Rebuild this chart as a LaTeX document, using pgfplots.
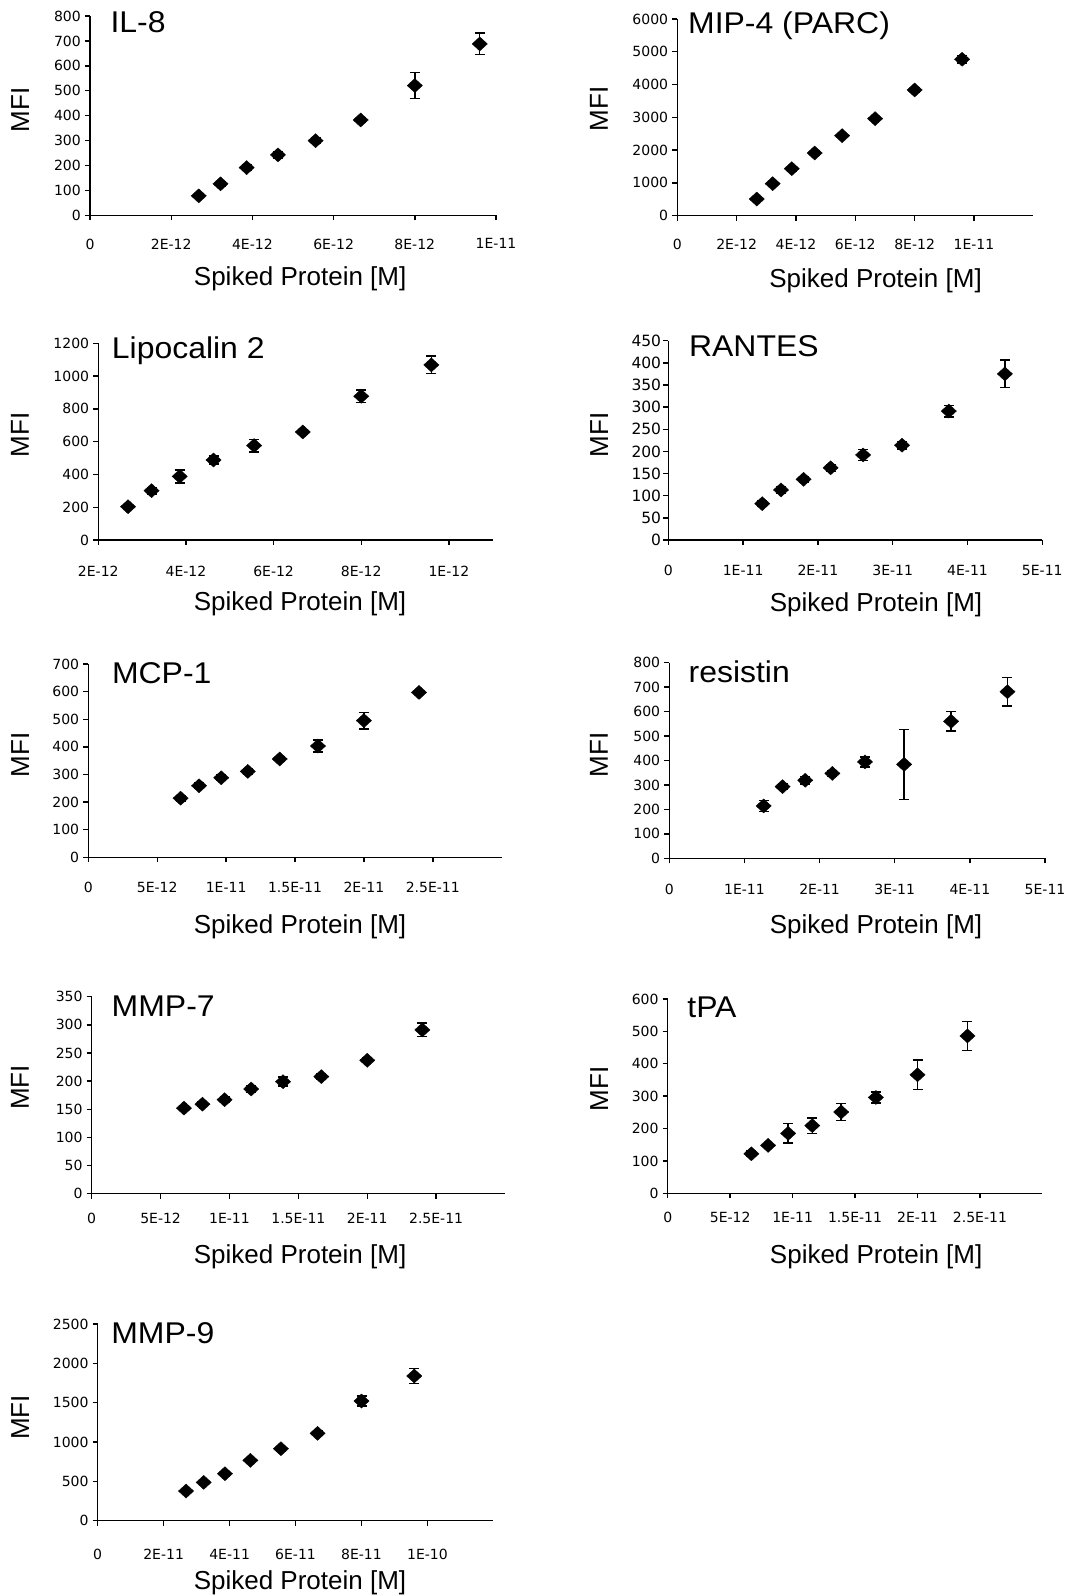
\documentclass[border=0pt]{standalone}
\usepackage{fontspec}
\setmainfont{Liberation Sans}
\newfontfamily\tickfam{DejaVu Sans}
\usepackage{graphicx}
\usepackage{pgfplots}
\pgfplotsset{compat=1.18}
\newcommand\tickfont{\tickfam\fontsize{14}{15}\selectfont}
\newcommand\bigtickfont{\tickfam\fontsize{15.5}{16}\selectfont}
\newcommand\labfont{\fontsize{26}{28}\selectfont}
\newcommand\titfont{\fontsize{30}{32}\selectfont}
\newcommand\tx[1]{\scalebox{1.065}[1]{#1}}
\tikzset{ttl/.style={anchor=base west, inner sep=0pt, font=\titfont}}
\pgfplotsset{
  panel/.style={
    scale only axis, anchor=south west, clip=false,
    axis x line*=bottom, axis y line*=left,
    axis line style={-, line width=1.4pt, black},
    tick align=outside, major tick length=5pt,
    tick style={line width=1.4pt, black},
    minor tick num=0,
    scaled x ticks=false, scaled y ticks=false,
    /pgf/number format/assume math mode=true,
    /pgf/number format/1000 sep={},
    xticklabel style={font=\tickfont, anchor=north, inner sep=0pt},
    yticklabel style={font=\tickfont, anchor=east, inner sep=0pt, xshift=-4pt},
    label style={font=\labfont},
    xlabel={Spiked Protein [M]}, ylabel={MFI},
    ylabel style={anchor=center},
    xlabel style={anchor=base},
  },
  pt/.style={only marks, mark=diamond*, black, mark size=7pt,
    mark options={xscale=1.45, fill=black, draw=black},
    error bars/.cd, y dir=both, y explicit,
    error bar style={line width=1.4pt, black},
    error mark options={rotate=90, line width=1.4pt, mark size=5pt, black}},
}
\begin{document}
\begin{tikzpicture}
\useasboundingbox (0,0) rectangle (1080pt,1596pt);

% IL-8
\begin{axis}[panel, at={(90pt,1380.5pt)}, width=406pt, height=199.5pt,
  xmin=0, xmax=1e-11, ymin=0, ymax=800,
  xtick={0,2e-12,4e-12,6e-12,8e-12,1e-11},
  xticklabels={0,2E-12,4E-12,6E-12,8E-12,1E-11},
  ytick={0,100,...,800},
  xticklabel style={yshift=-18pt},
  ylabel style={at={(axis description cs:-0.172,0.529)}},
  xlabel style={at={(axis description cs:0.493,0)}, yshift=-70pt, xshift=10pt}]
\addplot[pt] coordinates {
 (2.679e-12,78.8) +- (0,5)
 (3.215e-12,127) +- (0,8)
 (3.858e-12,192) +- (0,12)
 (4.630e-12,243) +- (0,14)
 (5.556e-12,300) +- (0,10)
 (6.667e-12,383) +- (0,10)
 (8.0e-12,521) +- (0,53)
 (9.6e-12,688) +- (0,43)
};
\node[ttl] at (rel axis cs:0.05,0.915) {\tx{IL-8}};
\end{axis}

% MIP-4 (PARC)
\begin{axis}[panel, at={(677.3pt,1380.3pt)}, width=356pt, height=196.7pt,
  xmin=0, xmax=1.2e-11, ymin=0, ymax=6000,
  xtick={0,2e-12,4e-12,6e-12,8e-12,1e-11},
  xticklabels={0,2E-12,4E-12,6E-12,8E-12,1E-11},
  ytick={0,1000,...,6000},
  xticklabel style={yshift=-18pt},
  ylabel style={at={(axis description cs:-0.220,0.542)}},
  xlabel style={at={(axis description cs:0.526,0)}, yshift=-71.6pt, xshift=11pt}]
\addplot[pt] coordinates {
 (2.679e-12,508) +- (0,30)
 (3.215e-12,977) +- (0,60)
 (3.858e-12,1434) +- (0,70)
 (4.630e-12,1912) +- (0,60)
 (5.556e-12,2441) +- (0,60)
 (6.667e-12,2960) +- (0,60)
 (8.0e-12,3835) +- (0,60)
 (9.6e-12,4771) +- (0,110)
};
\node[ttl] at (rel axis cs:0.030,0.924) {\tx{MIP-4 (PARC)}};
\end{axis}

% Lipocalin 2
\begin{axis}[panel, at={(98.3pt,1056pt)}, width=394.4pt, height=196.7pt,
  xmin=2e-12, xmax=1.1e-11, ymin=0, ymax=1200,
  xtick={2e-12,4e-12,6e-12,8e-12,1e-11},
  xticklabels={2E-12,4E-12,6E-12,8E-12,1E-12},
  ytick={0,200,...,1200},
  xticklabel style={yshift=-21pt},
  ylabel style={at={(axis description cs:-0.1985,0.534)}},
  xlabel style={at={(axis description cs:0.486,0)}, yshift=-71pt, xshift=10pt}]
\addplot[pt] coordinates {
 (2.679e-12,203) +- (0,10)
 (3.215e-12,301) +- (0,20)
 (3.858e-12,388) +- (0,40)
 (4.630e-12,488) +- (0,25)
 (5.556e-12,576) +- (0,38)
 (6.667e-12,659) +- (0,15)
 (8.0e-12,877) +- (0,38)
 (9.6e-12,1068) +- (0,54)
};
\node[ttl] at (rel axis cs:0.034,0.924) {\tx{Lipocalin 2}};
\end{axis}

% RANTES
\begin{axis}[panel, at={(668.3pt,1056pt)}, width=374pt, height=199.3pt,
  xmin=0, xmax=5e-11, ymin=0, ymax=450,
  xtick={0,1e-11,2e-11,3e-11,4e-11,5e-11},
  xticklabels={0,1E-11,2E-11,3E-11,4E-11,5E-11},
  ytick={0,50,...,450},
  xticklabel style={yshift=-20pt},
  yticklabel style={font=\bigtickfont, xshift=2pt},
  ylabel style={at={(axis description cs:-0.185,0.527)}},
  xlabel style={at={(axis description cs:0.526,0)}, yshift=-72pt, xshift=11pt}]
\addplot[pt] coordinates {
 (1.2558e-11,82) +- (0,6)
 (1.5070e-11,113) +- (0,8)
 (1.8084e-11,137) +- (0,6)
 (2.1701e-11,163) +- (0,8)
 (2.6042e-11,192) +- (0,12)
 (3.125e-11,214) +- (0,9)
 (3.75e-11,291) +- (0,13)
 (4.5e-11,375) +- (0,31)
};
\node[ttl] at (rel axis cs:0.055,0.920) {\tx{RANTES}};
\end{axis}

% MCP-1
\begin{axis}[panel, at={(88.3pt,738.7pt)}, width=413.4pt, height=193.3pt,
  xmin=0, xmax=3e-11, ymin=0, ymax=700,
  xtick={0,5e-12,1e-11,1.5e-11,2e-11,2.5e-11},
  xticklabels={0,5E-12,1E-11,1.5E-11,2E-11,2.5E-11},
  ytick={0,100,...,700},
  xticklabel style={yshift=-20pt},
  ylabel style={at={(axis description cs:-0.165,0.529)}},
  xlabel style={at={(axis description cs:0.488,0)}, yshift=-76pt, xshift=10pt}]
\addplot[pt] coordinates {
 (6.698e-12,214) +- (0,10)
 (8.038e-12,259) +- (0,10)
 (9.645e-12,288) +- (0,10)
 (1.1574e-11,311) +- (0,10)
 (1.3889e-11,356) +- (0,10)
 (1.6667e-11,403) +- (0,22)
 (2.0e-11,495) +- (0,30)
 (2.4e-11,597) +- (0,8)
};
\node[ttl] at (rel axis cs:0.057,0.900) {\tx{MCP-1}};
\end{axis}

% resistin
\begin{axis}[panel, at={(669.3pt,737.7pt)}, width=375.7pt, height=195.7pt,
  xmin=0, xmax=5e-11, ymin=0, ymax=800,
  xtick={0,1e-11,2e-11,3e-11,4e-11,5e-11},
  xticklabels={0,1E-11,2E-11,3E-11,4E-11,5E-11},
  ytick={0,100,...,800},
  xticklabel style={yshift=-21pt},
  ylabel style={at={(axis description cs:-0.187,0.528)}},
  xlabel style={at={(axis description cs:0.521,0)}, yshift=-75.7pt, xshift=11pt}]
\addplot[pt] coordinates {
 (1.2558e-11,214) +- (0,23)
 (1.5070e-11,293) +- (0,12)
 (1.8084e-11,319) +- (0,15)
 (2.1701e-11,347) +- (0,12)
 (2.6042e-11,394) +- (0,20)
 (3.125e-11,384) +- (0,143)
 (3.75e-11,560) +- (0,40)
 (4.5e-11,681) +- (0,58)
};
\node[ttl] at (rel axis cs:0.051,0.899) {\tx{resistin}};
\end{axis}

% MMP-7
\begin{axis}[panel, at={(91.7pt,402.3pt)}, width=413.3pt, height=197pt,
  xmin=0, xmax=3e-11, ymin=0, ymax=350,
  xtick={0,5e-12,1e-11,1.5e-11,2e-11,2.5e-11},
  xticklabels={0,5E-12,1E-11,1.5E-11,2E-11,2.5E-11},
  ytick={0,50,...,350},
  xticklabel style={yshift=-14pt},
  ylabel style={at={(axis description cs:-0.1735,0.539)}},
  xlabel style={at={(axis description cs:0.480,0)}, yshift=-69.6pt, xshift=10pt}]
\addplot[pt] coordinates {
 (6.698e-12,152) +- (0,4)
 (8.038e-12,159) +- (0,4)
 (9.645e-12,167) +- (0,5)
 (1.1574e-11,186) +- (0,6)
 (1.3889e-11,199) +- (0,8)
 (1.6667e-11,208) +- (0,5)
 (2.0e-11,237) +- (0,4)
 (2.4e-11,291) +- (0,12)
};
\node[ttl] at (rel axis cs:0.048,0.898) {\tx{MMP-7}};
\end{axis}

% tPA
\begin{axis}[panel, at={(667.7pt,402.7pt)}, width=374.7pt, height=194.3pt,
  xmin=0, xmax=3e-11, ymin=0, ymax=600,
  xtick={0,5e-12,1e-11,1.5e-11,2e-11,2.5e-11},
  xticklabels={0,5E-12,1E-11,1.5E-11,2E-11,2.5E-11},
  ytick={0,100,...,600},
  xticklabel style={yshift=-14pt},
  ylabel style={at={(axis description cs:-0.183,0.537)}},
  xlabel style={at={(axis description cs:0.527,0)}, yshift=-70.7pt, xshift=11pt}]
\addplot[pt] coordinates {
 (6.698e-12,122) +- (0,8)
 (8.038e-12,148) +- (0,6)
 (9.645e-12,185) +- (0,30)
 (1.1574e-11,209) +- (0,24)
 (1.3889e-11,251) +- (0,26)
 (1.6667e-11,296) +- (0,17)
 (2.0e-11,366) +- (0,46)
 (2.4e-11,486) +- (0,45)
};
\node[ttl] at (rel axis cs:0.052,0.906) {\tx{tPA}};
\end{axis}

% MMP-9
\begin{axis}[panel, at={(97.7pt,75.3pt)}, width=395.7pt, height=196.7pt,
  xmin=0, xmax=1.2e-10, ymin=0, ymax=2500,
  xtick={0,2e-11,4e-11,6e-11,8e-11,1e-10},
  xticklabels={0,2E-11,4E-11,6E-11,8E-11,1E-10},
  ytick={0,500,...,2500},
  xticklabel style={yshift=-23pt},
  ylabel style={at={(axis description cs:-0.196,0.525)}},
  xlabel style={at={(axis description cs:0.486,0)}, yshift=-68.6pt, xshift=10pt}]
\addplot[pt] coordinates {
 (2.679e-11,377) +- (0,20)
 (3.215e-11,487) +- (0,20)
 (3.858e-11,597) +- (0,20)
 (4.630e-11,767) +- (0,20)
 (5.556e-11,915) +- (0,30)
 (6.667e-11,1110) +- (0,30)
 (8.0e-11,1521) +- (0,64)
 (9.6e-11,1839) +- (0,97)
};
\node[ttl] at (rel axis cs:0.034,0.902) {\tx{MMP-9}};
\end{axis}
\end{tikzpicture}
\end{document}
